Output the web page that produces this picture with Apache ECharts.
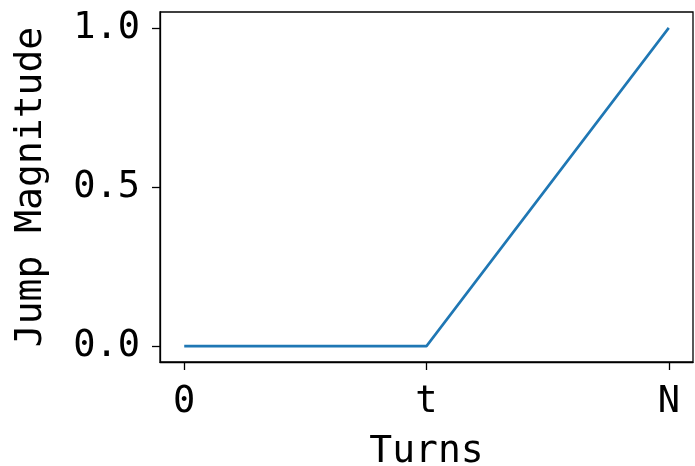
<!DOCTYPE html>
<html>
<head>
<meta charset="utf-8">
<script src="https://cdn.jsdelivr.net/npm/echarts@6/dist/echarts.min.js"></script>
<style>
  html, body { margin: 0; padding: 0; background: #fff; }
  #chart { width: 695px; height: 466px; }
</style>
</head>
<body>
<div id="chart"></div>
<script>
// Piecewise jump schedule: flat until turn t, then rising linearly to N.
const turnPositions = [0, 1, 2];
const turnTickLabels = ['0', 't', 'N'];
const jumpMagnitude = [0, 0, 1];
const magnitudeTicks = [0, 0.5, 1.0];

const FONT = '"DejaVu Sans Mono", monospace';
const FONT_SIZE = 37;
const chart = echarts.init(document.getElementById('chart'));

chart.setOption({
  animation: false,
  backgroundColor: '#fff',
  grid: {
    left: 160, right: 2, top: 12, bottom: 104,
    outerBoundsMode: 'none',
    containLabel: false,
    show: true, borderColor: '#000', borderWidth: 1.3, backgroundColor: 'transparent'
  },
  xAxis: {
    type: 'value',
    min: -0.1, max: 2.1,
    name: 'Turns',
    nameLocation: 'middle',
    nameGap: 71,
    nameTextStyle: { fontFamily: FONT, fontSize: FONT_SIZE + 1, color: '#000' },
    axisLine: { show: true, onZero: false, lineStyle: { color: '#000', width: 1.3 } },
    axisTick: { show: true, length: 8, customValues: turnPositions, lineStyle: { color: '#000', width: 1.3 } },
    axisLabel: {
      customValues: turnPositions,
      margin: 22,
      fontFamily: FONT, fontSize: FONT_SIZE, color: '#000',
      formatter: v => turnTickLabels[turnPositions.indexOf(Math.round(v))]
    },
    splitLine: { show: false }
  },
  yAxis: {
    type: 'value',
    min: -0.05, max: 1.05,
    name: 'Jump Magnitude',
    nameLocation: 'middle',
    nameGap: 110,
    nameTextStyle: { fontFamily: FONT, fontSize: FONT_SIZE + 1, color: '#000' },
    axisLine: { show: true, onZero: false, lineStyle: { color: '#000', width: 1.3 } },
    axisTick: { show: true, length: 8, customValues: magnitudeTicks, lineStyle: { color: '#000', width: 1.3 } },
    axisLabel: {
      customValues: magnitudeTicks,
      margin: 20,
      fontFamily: FONT, fontSize: FONT_SIZE, color: '#000',
      formatter: v => v.toFixed(1)
    },
    splitLine: { show: false }
  },
  series: [{
    type: 'line',
    data: turnPositions.map((x, i) => [x, jumpMagnitude[i]]),
    showSymbol: false,
    lineStyle: { color: '#1f77b4', width: 2.6 },
    itemStyle: { color: '#1f77b4' }
  }]
});
</script>
</body>
</html>
